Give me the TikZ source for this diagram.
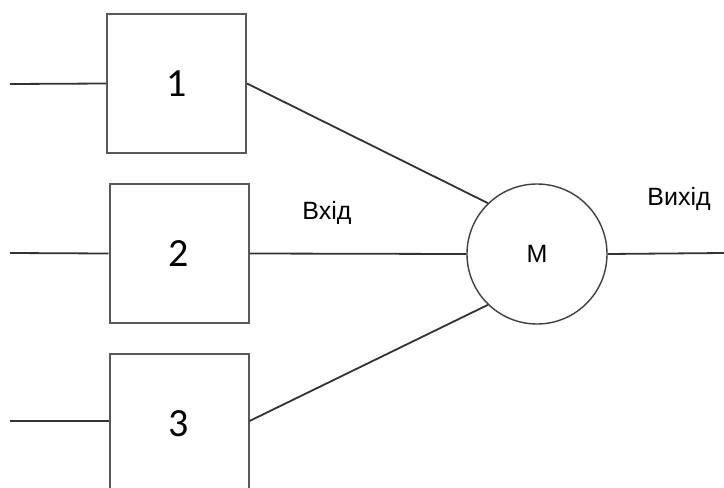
\documentclass[tikz,border=0pt]{standalone}
\usepackage{fontspec}
\setmainfont{Liberation Sans}
\newfontfamily\digitfont{Carlito}
\begin{document}
\begin{tikzpicture}[x=1pt,y=-1pt,
  wire/.style={draw=black!80, line width=1.8pt},
  block/.style={draw=black!65, line width=2pt, minimum width=139pt, minimum height=139pt,
    inner sep=0pt, font=\digitfont\fontsize{40}{40}\selectfont},
  motor/.style={circle, draw=black!75, line width=1.4pt, minimum size=140pt, inner sep=0pt,
    font=\fontsize{25}{25}\selectfont},
  lbl/.style={font=\fontsize{25}{25}\selectfont, inner sep=0pt, anchor=base}]
  \useasboundingbox[fill=white] (0,0) rectangle (724,488);
  \clip (0,0) rectangle (724,488);

  % input blocks
  \node[block] (b1) at (176.5,83.5) {1};
  \node[block] (b2) at (179,253.5) {2};
  \node[block] (b3) at (179,423.5) {3};

  % summing element
  \node[motor] (m) at (537,254) {M};

  % free ends of the wires
  \coordinate (in1) at (10,84);
  \coordinate (in2) at (10,253);
  \coordinate (in3) at (10,421);
  \coordinate (out) at (724,253);

  \draw[wire] (in1) -- (b1.west);
  \draw[wire] (in2) -- (b2.west);
  \draw[wire] (in3) -- (b3.west |- in3);

  \draw[wire] (b1.east) -- (m.134);
  \draw[wire] (b2.east) -- (m.west);
  \draw[wire] (b3.east |- in3) -- (m.226);
  \draw[wire] (m.east) -- (out);

  % labels
  \node[lbl] (lin) at (327,219) {Вхід};
  \node[lbl] (lout) at (679,205) {Вихід};
\end{tikzpicture}
\end{document}
